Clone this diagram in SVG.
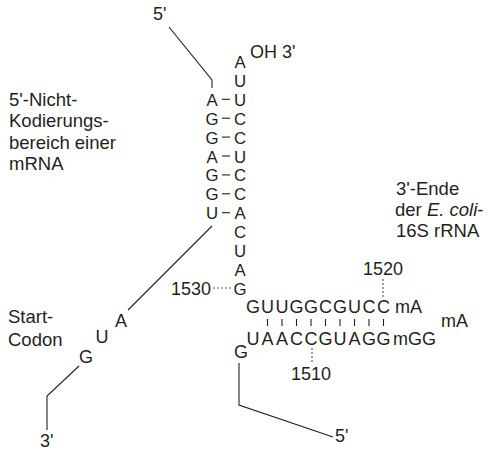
<svg xmlns="http://www.w3.org/2000/svg" width="489" height="453" viewBox="0 0 489 453">
<style>
text{font-family:"Liberation Sans","Noto Sans",sans-serif;font-size:18px;fill:#231f20}
.col{font-size:16.8px}
.lb{font-size:18.5px}
.c{text-anchor:middle}
.e{text-anchor:end}
.ln{stroke:#231f20;stroke-width:1.1;fill:none}
.dot{stroke:#555;stroke-width:1.1;stroke-dasharray:2 2;fill:none}
.tk{stroke:#231f20;stroke-width:1.1}
</style>
<rect width="489" height="453" fill="#fff"/>
<g id="connectors">
<polyline class="ln" points="169,27 212,80 212,88"/>
<line class="ln" x1="212" y1="226" x2="128" y2="310"/>
<polyline class="ln" points="79,366 47,396 47,430"/>
<polyline class="ln" points="239,363 239,405 333,437"/>
<line class="dot" x1="213" y1="288" x2="232" y2="288"/>
<line class="dot" x1="383" y1="279" x2="383" y2="298"/>
<line class="dot" x1="312" y1="348" x2="312" y2="364"/>
<g class="tk">
<line x1="222" y1="99.3" x2="230" y2="99.3"/>
<line x1="222" y1="118.2" x2="230" y2="118.2"/>
<line x1="222" y1="137.1" x2="230" y2="137.1"/>
<line x1="222" y1="156" x2="230" y2="156"/>
<line x1="222" y1="174.9" x2="230" y2="174.9"/>
<line x1="222" y1="193.8" x2="230" y2="193.8"/>
<line x1="222" y1="212.7" x2="230" y2="212.7"/>
<line x1="267.5" y1="319" x2="267.5" y2="326"/>
<line x1="282" y1="319" x2="282" y2="326"/>
<line x1="296.5" y1="319" x2="296.5" y2="326"/>
<line x1="311" y1="319" x2="311" y2="326"/>
<line x1="325.5" y1="319" x2="325.5" y2="326"/>
<line x1="340" y1="319" x2="340" y2="326"/>
<line x1="354.5" y1="319" x2="354.5" y2="326"/>
<line x1="369" y1="319" x2="369" y2="326"/>
<line x1="383.5" y1="319" x2="383.5" y2="326"/>
</g>
</g>
<g id="mrna-5end"><text x="153" y="20">5'</text></g>
<g id="mrna-stem-left">
<text class="c col"><tspan x="212" y="105.8">A</tspan><tspan x="212" y="124.7">G</tspan><tspan x="212" y="143.6">G</tspan><tspan x="212" y="162.5">A</tspan><tspan x="212" y="181.4">G</tspan><tspan x="212" y="200.3">G</tspan><tspan x="212" y="219.2">U</tspan></text>
</g>
<g id="rrna-stem-right">
<text class="c col"><tspan x="240" y="68">A</tspan><tspan x="240" y="86.9">U</tspan><tspan x="240" y="105.8">U</tspan><tspan x="240" y="124.7">C</tspan><tspan x="240" y="143.6">C</tspan><tspan x="240" y="162.5">U</tspan><tspan x="240" y="181.4">C</tspan><tspan x="240" y="200.3">C</tspan><tspan x="240" y="219.2">A</tspan><tspan x="240" y="238.1">C</tspan><tspan x="240" y="257">U</tspan><tspan x="240" y="275.9">A</tspan><tspan x="240" y="294.8">G</tspan></text>
</g>
<g id="oh3"><text x="250" y="58">OH 3'</text></g>
<g id="label-mrna">
<text class="lb"><tspan x="9" y="106">5'-Nicht-</tspan><tspan x="9" y="127">Kodierungs-</tspan><tspan x="9" y="148.5">bereich einer</tspan><tspan x="9" y="170">mRNA</tspan></text>
</g>
<g id="label-rrna">
<text class="lb"><tspan x="396" y="195">3'-Ende</tspan><tspan x="395" y="216">der <tspan font-style="italic">E. coli</tspan>-</tspan><tspan x="396" y="237">16S rRNA</tspan></text>
</g>
<g id="n1530"><text class="e" x="211" y="295">1530</text></g>
<g id="n1520"><text class="c" x="383" y="275">1520</text></g>
<g id="n1510"><text class="c" x="311" y="380">1510</text></g>
<g id="rrna-top">
<text class="c" x="253 267.5 282 296.5 311 325.5 340 354.5 369 383.5" y="313">GUUGGCGUCC</text>
<text x="395" y="313">mA</text>
</g>
<g id="rrna-bottom">
<text class="c" x="253 267.5 282 296.5 311 325.5 340 354.5 369 383.5" y="345">UAACCGUAGG</text>
<text x="393" y="345">mGG</text>
<text x="441" y="327">mA</text>
<text class="c" x="241" y="358">G</text>
<text x="335" y="442">5'</text>
</g>
<g id="start-codon">
<text class="lb"><tspan x="8" y="323">Start-</tspan><tspan x="8" y="346">Codon</tspan></text>
<text class="c"><tspan x="121" y="327">A</tspan><tspan x="102" y="343">U</tspan><tspan x="86" y="363">G</tspan></text>
<text x="40" y="447">3'</text>
</g>
</svg>
